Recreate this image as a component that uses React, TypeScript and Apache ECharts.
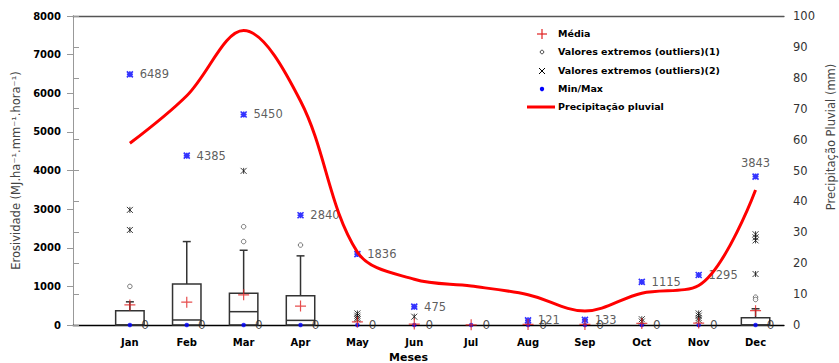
import React, { useEffect, useRef } from 'react';
import * as echarts from 'echarts';

const months = ['Jan', 'Feb', 'Mar', 'Apr', 'May', 'Jun', 'Jul', 'Aug', 'Sep', 'Oct', 'Nov', 'Dec'];
const leftTicks = [0, 1000, 2000, 3000, 4000, 5000, 6000, 7000, 8000];
const rightTicks = [0, 10, 20, 30, 40, 50, 60, 70, 80, 90, 100];

// Precipitação pluvial (mm), right axis
const precipitation = [58.8, 74.2, 95.3, 72.5, 23.6, 14.8, 12.6, 9.8, 4.5, 10.3, 12.8, 43.7];

// Box plot statistics (MJ.ha-1.mm-1.hora-1)
const whiskerLow = [0, 0, 0, 0, 0, 0, 0, 0, 0, 0, 0, 0];
const quartile1 = [0, 0, 0, 0, 0, 0, 0, 0, 0, 0, 0, 0];
const median = [0, 130, 345, 120, 0, 0, 0, 0, 0, 0, 0, 0];
const quartile3 = [370, 1060, 820, 760, 0, 0, 0, 0, 0, 0, 0, 190];
const whiskerHigh = [600, 2160, 1935, 1790, 0, 0, 0, 0, 0, 0, 0, 420];

// Média
const mean = [520, 590, 780, 490, 80, 25, 5, 15, 15, 40, 50, 370];

// Min / Max
const minValues = [0, 0, 0, 0, 0, 0, 0, 0, 0, 0, 0, 0];
const maxValues: (number | null)[] = [6489, 4385, 5450, 2840, 1836, 475, null, 121, 133, 1115, 1295, 3843];

// Valores extremos (outliers)(1): month index (1-12) and value
const outlier1Month = [1, 3, 3, 4, 12, 12];
const outlier1Value = [1000, 2545, 2160, 2070, 720, 660];

// Valores extremos (outliers)(2)
const outlier2Month = [1, 1, 3, 5, 5, 5, 5, 6, 10, 10, 11, 11, 11, 11, 12, 12, 12, 12];
const outlier2Value = [2980, 2460, 3990, 300, 240, 190, 150, 215, 150, 90, 300, 240, 180, 130, 2350, 2270, 2190, 1320];

const STAR = 'path://M0,0L10,10M10,0L0,10M5,0L5,10';
const ASTER = 'path://M0,0L10,10M10,0L0,10M5,0L5,10M0,5L10,5';
const PLUS = 'path://M0,5L10,5M5,0L5,10';

export default function App() {
  const ref = useRef<HTMLDivElement>(null);
  useEffect(() => {
    const chart = echarts.init(ref.current!, null, { renderer: 'svg' });
    const boxData = months.map((_, i) => [i + 1, whiskerLow[i], quartile1[i], median[i], quartile3[i], whiskerHigh[i]]);
    const legendX = 542;
    const legendTextX = 558;
    const legendRows = [34, 52, 71, 89, 107];
    const legendNames = ['Média', 'Valores extremos (outliers)(1)', 'Valores extremos (outliers)(2)', 'Min/Max', 'Precipitação pluvial'];
    const legendText = legendNames.map((n, i) => ({
      type: 'text',
      left: legendTextX,
      top: legendRows[i] - 6,
      style: { text: n, font: 'bold 9.5px "DejaVu Sans"', fill: '#000' },
    }));
    const maxData = maxValues
      .map((v, i) => (v == null ? null : i === maxValues.length - 1
        ? { value: [i + 1, v], label: { position: 'top', distance: 4 } }
        : { value: [i + 1, v] }))
      .filter((d) => d !== null);
    const option: any = {
      animation: false,
      grid: { left: 73, right: 55, top: 16, bottom: 38, outerBoundsMode: 'none', containLabel: false },
      xAxis: [
        {
          type: 'value',
          min: 0,
          max: 12.5,
          interval: 1,
          axisLine: { onZero: false, lineStyle: { color: '#000', width: 1.3 } },
          axisTick: { show: false },
          splitLine: { show: false },
          axisLabel: {
            formatter: (v: number) => (Number.isInteger(v) && v >= 1 && v <= 12 ? months[v - 1] : ''),
            fontFamily: 'DejaVu Sans',
            fontWeight: 'bold',
            fontSize: 10,
            color: '#000',
            margin: 12,
          },
          name: 'Meses',
          nameLocation: 'middle',
          nameGap: 25,
          nameTextStyle: { fontFamily: 'DejaVu Sans', fontWeight: 'bold', fontSize: 11, color: '#000', padding: [0, 40, 0, 0] },
        },
        {
          type: 'value',
          position: 'top',
          min: 0,
          max: 12.5,
          axisLine: { onZero: false, lineStyle: { color: '#555', width: 1.3 } },
          axisTick: { show: false },
          axisLabel: { show: false },
          splitLine: { show: false },
        },
      ],
      yAxis: [
        {
          type: 'value',
          min: leftTicks[0],
          max: leftTicks[leftTicks.length - 1],
          interval: 1000,
          axisLine: { show: true, lineStyle: { color: '#999' } },
          axisTick: { show: true, length: 6, lineStyle: { color: '#999' } },
          splitLine: { show: false },
          axisLabel: { formatter: (v: number) => String(v), fontFamily: 'DejaVu Sans', fontWeight: 'bold', fontSize: 10, color: '#000', margin: 12 },
          name: 'Erosividade (MJ.ha⁻¹.mm⁻¹.hora⁻¹)',
          nameLocation: 'middle',
          nameGap: 47,
          nameTextStyle: { fontFamily: 'DejaVu Sans', fontSize: 11.5, color: '#444' },
        },
        {
          type: 'value',
          position: 'right',
          min: rightTicks[0],
          max: rightTicks[rightTicks.length - 1],
          interval: 10,
          axisLine: { show: true, lineStyle: { color: '#999' } },
          axisTick: { show: true, length: 6, lineStyle: { color: '#999' } },
          splitLine: { show: false },
          axisLabel: { formatter: (v: number) => String(v), fontFamily: 'DejaVu Sans', fontSize: 11.5, color: '#333', margin: 9 },
        },
      ],
      graphic: [
        {
          type: 'text',
          x: 831,
          y: 137,
          rotation: Math.PI / 2,
          style: { text: 'Precipitação Pluvial (mm)', font: '11.5px "DejaVu Sans"', fill: '#444', align: 'center', verticalAlign: 'middle' },
        },
        { type: 'line', shape: { x1: legendX - 5, y1: legendRows[0], x2: legendX + 5, y2: legendRows[0] }, style: { stroke: '#e02020', lineWidth: 1.2 } },
        { type: 'line', shape: { x1: legendX, y1: legendRows[0] - 5, x2: legendX, y2: legendRows[0] + 5 }, style: { stroke: '#e02020', lineWidth: 1.2 } },
        { type: 'circle', shape: { cx: legendX, cy: legendRows[1], r: 1.8 }, style: { fill: '#fff', stroke: '#444', lineWidth: 1 } },
        { type: 'line', shape: { x1: legendX - 3, y1: legendRows[2] - 3, x2: legendX + 3, y2: legendRows[2] + 3 }, style: { stroke: '#000', lineWidth: 1 } },
        { type: 'line', shape: { x1: legendX + 3, y1: legendRows[2] - 3, x2: legendX - 3, y2: legendRows[2] + 3 }, style: { stroke: '#000', lineWidth: 1 } },
        { type: 'circle', shape: { cx: legendX, cy: legendRows[3], r: 2.2 }, style: { fill: '#0000ff' } },
        { type: 'line', shape: { x1: 527, y1: legendRows[4], x2: 555, y2: legendRows[4] }, style: { stroke: '#ff0000', lineWidth: 3 } },
        ...legendText,
      ],
      series: [
        {
          type: 'custom',
          name: 'Box',
          coordinateSystem: 'cartesian2d',
          xAxisIndex: 0,
          yAxisIndex: 0,
          encode: { x: 0, y: [1, 2, 3, 4, 5] },
          data: boxData,
          z: 3,
          renderItem: (params: any, api: any) => {
            const x = api.value(0);
            const lo = api.coord([x, api.value(1)]);
            const q1 = api.coord([x, api.value(2)]);
            const md = api.coord([x, api.value(3)]);
            const q3 = api.coord([x, api.value(4)]);
            const hi = api.coord([x, api.value(5)]);
            const w = api.size([0.5, 0])[0];
            const cw = api.size([0.14, 0])[0];
            const style = { stroke: '#333', lineWidth: 1.5, fill: 'none' };
            const children: any[] = [];
            if (hi[1] < q3[1] - 0.5) {
              children.push({ type: 'line', shape: { x1: hi[0], y1: hi[1], x2: q3[0], y2: q3[1] }, style });
              children.push({ type: 'line', shape: { x1: hi[0] - cw / 2, y1: hi[1], x2: hi[0] + cw / 2, y2: hi[1] }, style });
            }
            if (lo[1] > q1[1] + 0.5) {
              children.push({ type: 'line', shape: { x1: lo[0], y1: lo[1], x2: q1[0], y2: q1[1] }, style });
            }
            if (q1[1] - q3[1] > 0.5) {
              children.push({ type: 'rect', shape: { x: q3[0] - w / 2, y: q3[1], width: w, height: q1[1] - q3[1] }, style });
              children.push({ type: 'line', shape: { x1: md[0] - w / 2, y1: md[1], x2: md[0] + w / 2, y2: md[1] }, style });
            }
            return { type: 'group', children };
          },
        },
        {
          type: 'scatter',
          name: 'Valores extremos (outliers)(1)',
          data: outlier1Month.map((m, i) => [m, outlier1Value[i]]),
          symbol: 'circle',
          symbolSize: 4.5,
          itemStyle: { color: '#fff', borderColor: '#555', borderWidth: 1 },
          z: 4,
        },
        {
          type: 'scatter',
          name: 'Valores extremos (outliers)(2)',
          data: outlier2Month.map((m, i) => [m, outlier2Value[i]]),
          symbol: STAR,
          symbolSize: 6,
          itemStyle: { color: 'rgba(0,0,0,0)', borderColor: '#111', borderWidth: 1 },
          z: 4,
        },
        {
          type: 'scatter',
          name: 'Min',
          data: minValues.map((v, i) => [i + 1, v]),
          symbol: 'circle',
          symbolSize: 4.5,
          itemStyle: { color: '#0000ff' },
          label: { show: true, position: 'right', distance: 9, formatter: (p: any) => String(p.value[1]), fontFamily: 'DejaVu Sans', fontSize: 12, color: '#222' },
          z: 5,
        },
        {
          type: 'scatter',
          name: 'Max',
          data: maxData,
          symbol: ASTER,
          symbolSize: 6,
          itemStyle: { color: 'rgba(0,0,0,0)', borderColor: '#0000ff', borderWidth: 1.6 },
          label: { show: true, position: 'right', distance: 6, formatter: (p: any) => String(p.value[1]), fontFamily: 'DejaVu Sans', fontSize: 11.5, color: '#333' },
          z: 5,
        },
        {
          type: 'scatter',
          name: 'Média',
          data: mean.map((v, i) => [i + 1, v]),
          symbol: PLUS,
          symbolSize: 11,
          itemStyle: { color: 'rgba(0,0,0,0)', borderColor: '#e02020', borderWidth: 1.2 },
          z: 6,
        },
        {
          type: 'line',
          name: 'Precipitação pluvial',
          xAxisIndex: 0,
          yAxisIndex: 1,
          data: precipitation.map((v, i) => [i + 1, v]),
          smooth: 0.35,
          symbol: 'none',
          lineStyle: { color: '#ff0000', width: 3 },
          z: 7,
        },
      ],
    };
    chart.setOption(option);
    return () => chart.dispose();
  }, []);
  return <div ref={ref} style={{ position: 'absolute', left: 0, top: 0, width: 839, height: 363 }} />;
}
